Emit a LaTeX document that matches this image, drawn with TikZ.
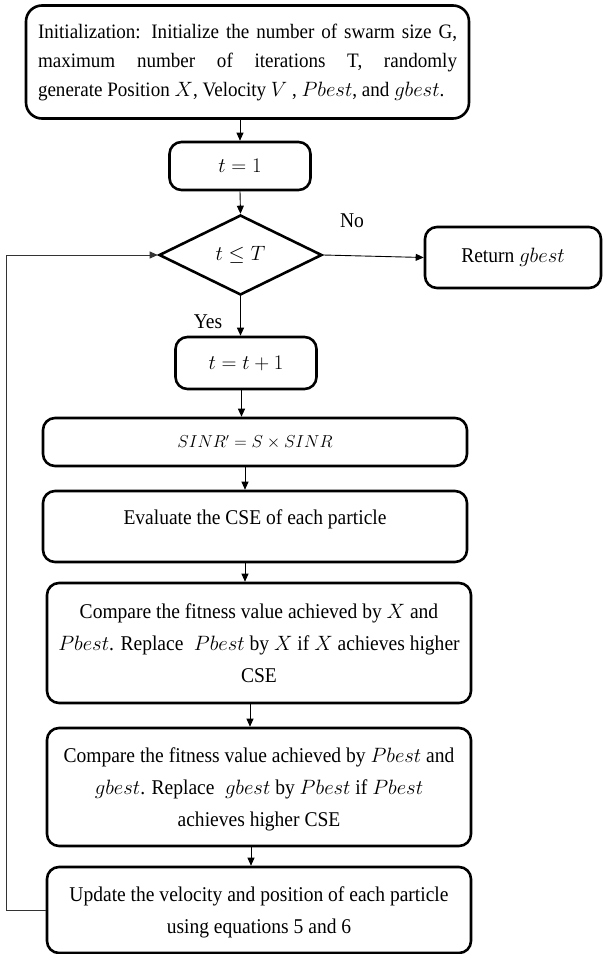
\documentclass[tikz,border=0pt]{standalone}
\usepackage{fontspec}
\setmainfont[FakeStretch=0.93]{Liberation Serif}
\usetikzlibrary{shapes.geometric,arrows.meta,calc}
\begin{document}
\begin{tikzpicture}[x=1pt,y=-1pt,
  font=\fontsize{21}{32}\selectfont,
  box/.style={draw, line width=2.6pt, rounded corners=12pt, align=center, inner sep=0pt},
  arr/.style={-{Triangle[length=8pt,width=7pt]}, line width=0.9pt},
  lbl/.style={inner sep=0pt}]
\useasboundingbox (0,0) rectangle (603,954);

\node[box, minimum width=443pt, minimum height=113pt, rounded corners=16pt,
      align=left, font=\fontsize{20.5}{29}\selectfont] (init) at (247.5,62)
  {\makebox[419pt][s]{Initialization: Initialize the number of swarm size G,}\\
   \makebox[419pt][s]{maximum number of iterations T, randomly}\\
   \makebox[419pt][l]{generate Position $X$, Velocity $V$ , $Pbest$, and $gbest$.}};

\node[box, minimum width=141pt, minimum height=48pt] (t1) at (240,166) {$t = 1$};

\node[draw, diamond, line width=2.6pt, minimum width=163pt, minimum height=80pt,
      inner sep=0pt, aspect=2] (dia) at (240.5,255) {$t \le T$};

\node[lbl] (no) at (352,221) {No};
\node[box, minimum width=176pt, minimum height=61pt] (ret) at (513,257.5) {Return $gbest$};

\node[lbl] (yes) at (208,322) {Yes};
\node[box, minimum width=141pt, minimum height=52pt] (tt1) at (246,363) {$t = t + 1$};

\node[box, minimum width=424pt, minimum height=48pt] (sinr) at (255,442)
  {\fontsize{16}{20}\selectfont $SINR' = S \times SINR$};

\node[box, minimum width=424pt, minimum height=71pt, text height=14pt, text depth=18pt] (eval) at (255,526.5)
  {Evaluate the CSE of each particle};

\node[box, minimum width=424pt, minimum height=120pt] (cmp1) at (259,643)
  {Compare the fitness value achieved by $X$ and\\
   $Pbest$. Replace\enspace $Pbest$ by $X$ if $X$ achieves higher\\
   CSE};

\node[box, minimum width=424pt, minimum height=118pt] (cmp2) at (259,787)
  {\rule{0pt}{20pt}Compare the fitness value achieved by $Pbest$ and\\
   $gbest$. Replace\enspace $gbest$ by $Pbest$ if $Pbest$\\
   achieves higher CSE};

\node[box, minimum width=424pt, minimum height=86pt] (upd) at (259,910)
  {\rule{0pt}{20pt}Update the velocity and position of each particle\\
   using equations 5 and 6};

\draw[arr] (t1.north |- init.south) -- (t1.north);
\draw[arr] (t1.south) -- (dia.north);
\draw[arr] (dia.east) -- (ret.west);
\draw[arr] (dia.south) -- (dia.south |- tt1.north);
\draw[arr] ($(tt1.south)+(-4.5,0)$) -- ($(sinr.north)+(-13.5,0)$);
\draw[arr] ($(sinr.south)+(-10,0)$) -- ($(eval.north)+(-10,0)$);
\draw[arr] ($(eval.south)+(-10,0)$) -- ($(cmp1.north)+(-14,0)$);
\draw[arr] ($(cmp1.south)+(-9,0)$) -- ($(cmp2.north)+(-9,0)$);
\draw[arr] ($(cmp2.south)+(-8,0)$) -- ($(upd.north)+(-8,0)$);
\draw[arr, draw=black!80] (upd.west) -- ++(-39,0) |- (dia.west);
\end{tikzpicture}
\end{document}
